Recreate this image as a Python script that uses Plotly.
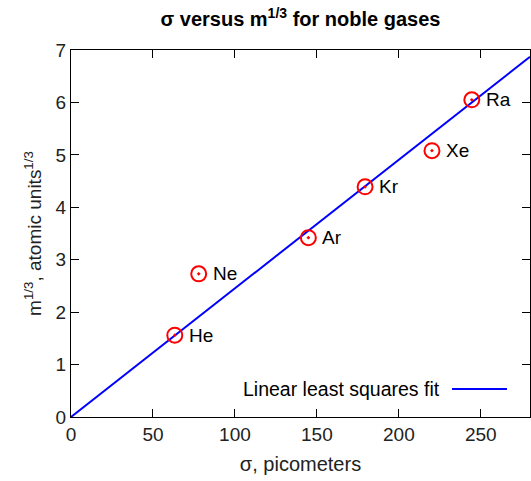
import plotly.graph_objects as go

elements = ["He", "Ne", "Ar", "Kr", "Xe", "Ra"]
sigma_pm = [63.3, 77.9, 144.8, 179.4, 220.2, 244.5]
m_cuberoot = [1.56, 2.73, 3.42, 4.39, 5.08, 6.05]

fit_x = [0, 280]
fit_y = [0, 6.87]

x_ticks = [0, 50, 100, 150, 200, 250]
y_ticks = [0, 1, 2, 3, 4, 5, 6, 7]

FONT = "Liberation Sans, Arial, sans-serif"
FS = 19

fig = go.Figure()
fig.add_trace(go.Scatter(
    x=fit_x, y=fit_y, mode="lines",
    line=dict(color="#0000ff", width=2),
    showlegend=False, hoverinfo="skip",
))
fig.add_trace(go.Scatter(
    x=sigma_pm, y=m_cuberoot, mode="markers",
    marker=dict(symbol="circle-open-dot", size=15, color="#ff0000",
                line=dict(width=2, color="#ff0000")),
    showlegend=False,
))

for name, xv, yv in zip(elements, sigma_pm, m_cuberoot):
    fig.add_annotation(x=xv, y=yv, text=name, showarrow=False,
                       xanchor="left", yanchor="middle", xshift=12,
                       font=dict(family=FONT, size=FS, color="#000000"))

# legend (key drawn to the right of its label, gnuplot style)
fig.add_annotation(xref="paper", yref="paper", x=(442 - 71) / 459, y=(417 - 389) / 367,
                   text="Linear least squares fit", showarrow=False,
                   xanchor="right", yanchor="middle",
                   font=dict(family=FONT, size=19.5, color="#000000"))
fig.add_shape(type="line", xref="paper", yref="paper",
              x0=(452 - 71) / 459, x1=(507 - 71) / 459,
              y0=(417 - 389) / 367, y1=(417 - 389) / 367,
              line=dict(color="#0000ff", width=2))

axis_common = dict(
    showline=True, linecolor="#000000", linewidth=1, mirror="ticks",
    ticks="inside", ticklen=8, tickcolor="#000000", tickwidth=1,
    showgrid=False, zeroline=False,
    tickfont=dict(family=FONT, size=FS, color="#222222"),
)

fig.update_layout(
    width=531, height=481,
    margin=dict(l=71, r=1, t=50, b=64),
    paper_bgcolor="white", plot_bgcolor="white",
    title=dict(text="<b>σ versus m<sup>1/3</sup> for noble gases</b>",
               x=(71 + 530) / 2 / 531, xanchor="center", y=1 - 19 / 481, yanchor="middle",
               font=dict(family=FONT, size=20, color="#000000")),
    xaxis=dict(range=[0, 280], tickvals=x_ticks,
               title=dict(text="σ, picometers", standoff=13,
                          font=dict(family=FONT, size=20, color="#222222")),
               **axis_common),
    yaxis=dict(range=[0, 7], tickvals=y_ticks,
               title=dict(text="m<sup>1/3</sup>, atomic units<sup>1/3</sup>", standoff=8,
                          font=dict(family=FONT, size=FS, color="#222222")),
               **axis_common),
)

fig.write_html("out.html", config={"displayModeBar": False},
               post_script="document.body.style.margin='0';document.body.style.overflow='hidden';")
